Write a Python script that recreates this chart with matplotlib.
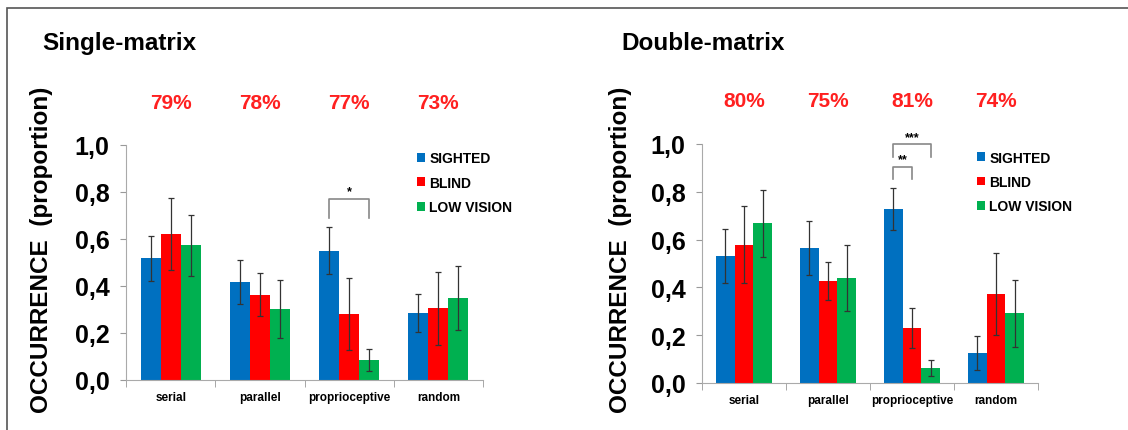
import matplotlib
matplotlib.use("Agg")
import matplotlib.pyplot as plt
from matplotlib.patches import Rectangle
import numpy as np

plt.rcParams['font.family'] = ['Liberation Sans', 'DejaVu Sans']

categories = ["serial", "parallel", "proprioceptive", "random"]
groups = ["SIGHTED", "BLIND", "LOW VISION"]
colors = ["#0070C0", "#FF0000", "#00B050"]

# Single-matrix
single_vals = [[0.517, 0.418, 0.550, 0.283],
               [0.619, 0.363, 0.280, 0.305],
               [0.572, 0.302, 0.085, 0.348]]
single_err = [[0.095, 0.093, 0.100, 0.081],
              [0.153, 0.092, 0.152, 0.155],
              [0.130, 0.124, 0.045, 0.136]]
single_pct = ["79%", "78%", "77%", "73%"]

# Double-matrix
double_vals = [[0.531, 0.563, 0.729, 0.125],
               [0.579, 0.427, 0.229, 0.374],
               [0.668, 0.440, 0.063, 0.291]]
double_err = [[0.113, 0.113, 0.087, 0.070],
              [0.160, 0.079, 0.084, 0.172],
              [0.140, 0.139, 0.035, 0.140]]
double_pct = ["80%", "75%", "81%", "74%"]

# significance brackets: (category, group a, group b, top, leg bottom, label)
single_sig = [(2, 0, 2, 0.77, 0.69, "*")]
double_sig = [(2, 0, 2, 1.00, 0.945, "***"),
              (2, 0, 1, 0.905, 0.855, "**")]

W, H = 1128, 431
fig = plt.figure(figsize=(W / 100, H / 100), dpi=100)

# outer frame
fig.patches.append(Rectangle((7 / W, -0.1), 1.2, 1.1 - 9 / H, transform=fig.transFigure,
                             fill=False, edgecolor="#555555", lw=1.2))

bw = 0.225


def panel(rect, vals, errs, pct, sigs, title, title_x, ylab_x):
    ax = fig.add_axes(rect)
    x = np.arange(len(categories))
    for i in range(len(groups)):
        ax.bar(x + (i - 1) * bw, vals[i], bw, color=colors[i], label=groups[i],
               yerr=errs[i], error_kw=dict(ecolor="#333333", elinewidth=0.9, capsize=2, capthick=0.9))
    ax.set_xlim(-0.5, 3.5)
    ax.set_ylim(0, 1.0)
    ax.set_yticks([0, 0.2, 0.4, 0.6, 0.8, 1.0])
    ax.set_yticklabels(["0,0", "0,2", "0,4", "0,6", "0,8", "1,0"], fontsize=18, fontweight="bold")
    ax.set_xticks(x)
    ax.set_xticklabels(categories, fontsize=8.5, fontweight="bold")
    ax.set_xticks([-0.5, 0.5, 1.5, 2.5, 3.5], minor=True)
    ax.tick_params(axis="x", which="major", length=0, pad=8)
    ax.tick_params(axis="x", which="minor", length=5, color="#999999", direction="out")
    ax.tick_params(axis="y", length=4, color="#999999", direction="out", pad=8)
    for s in ["top", "right"]:
        ax.spines[s].set_visible(False)
    for s in ["left", "bottom"]:
        ax.spines[s].set_color("#aaaaaa")
    for i, p in enumerate(pct):
        ax.text(x[i], 1.18, p, color="#FF2020", fontsize=15, fontweight="bold",
                ha="center", va="center", clip_on=False)
    for c, a, b, top, bot, lab in sigs:
        xa = c + (a - 1) * bw
        xb = c + (b - 1) * bw
        ax.plot([xa, xa, xb, xb], [bot, top, top, bot], color="#888888", lw=1.2,
                clip_on=False, solid_joinstyle="round")
        ax.text((xa + xb) / 2, top + 0.005, lab, ha="center", va="bottom",
                fontsize=9, fontweight="bold", clip_on=False)
    ax.legend(loc="upper left", bbox_to_anchor=(0.78, 1.025), frameon=False,
              handlelength=0.6, handleheight=0.6, handletextpad=0.3,
              labelspacing=0.75, prop=dict(size=10, weight="bold"))
    fig.text(title_x, 0.90, title, fontsize=17.5, fontweight="bold", ha="left", va="center")
    fig.text(ylab_x, 0.42, "OCCURRENCE  (proportion)", fontsize=17.5, fontweight="bold",
             rotation=90, ha="center", va="center")
    return ax


panel([126 / W, 1 - 381 / H, 357 / W, 235.3 / H], single_vals, single_err, single_pct,
      single_sig, "Single-matrix", 42 / W, 42 / W)
panel([702 / W, 1 - 384 / H, 336 / W, 239 / H], double_vals, double_err, double_pct,
      double_sig, "Double-matrix", 621 / W, 620 / W)

fig.savefig("out.png", dpi=100)
